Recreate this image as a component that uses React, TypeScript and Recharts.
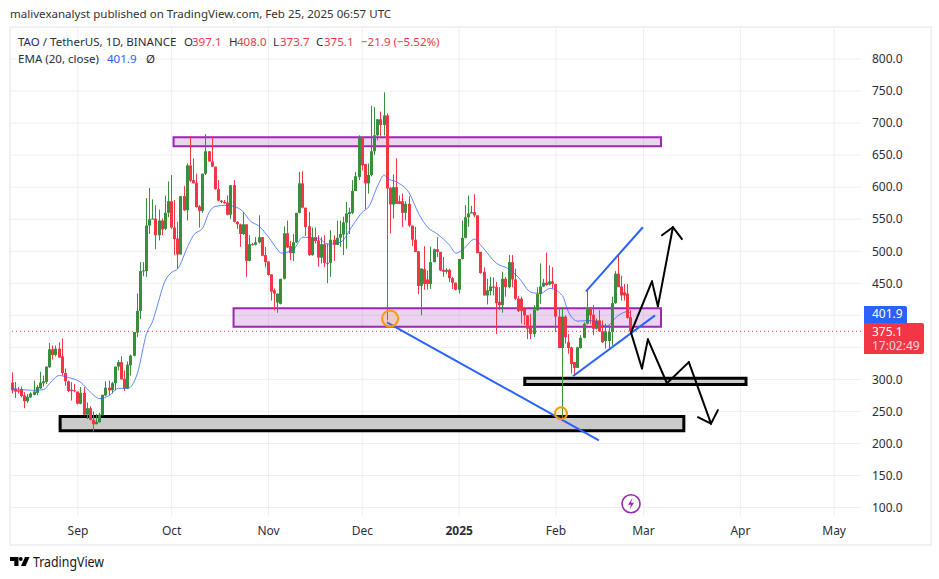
import React from "react";
import {
  ComposedChart,
  Bar,
  Line,
  XAxis,
  YAxis,
  CartesianGrid,
  ReferenceArea,
  ReferenceLine,
  ReferenceDot,
} from "recharts";

// daily candles, Aug 11 2024 (index 0) to Feb 25 2025 (index 198)
const opens = [
  295, 285, 283, 285, 275, 266, 272, 276, 279, 286, 294, 296, 319, 347, 338, 348, 336, 310, 297, 284,
  283, 281, 262, 279, 245, 255, 237, 230, 233, 244, 275, 287, 283, 294, 320, 327, 301, 286, 322, 337,
  373, 407, 469, 469, 540, 550, 551, 525, 548, 535, 560, 578, 537, 520, 495, 586, 564, 634, 611, 607,
  570, 563, 621, 656, 640, 632, 597, 579, 577, 576, 557, 603, 546, 542, 527, 542, 485, 511, 510, 514,
  522, 494, 484, 464, 439, 420, 418, 457, 528, 508, 497, 514, 560, 606, 568, 539, 494, 522, 517, 490,
  511, 482, 482, 518, 510, 521, 526, 545, 558, 560, 594, 616, 678, 636, 606, 619, 656, 681, 706, 697,
  712, 599, 573, 600, 578, 578, 560, 574, 540, 518, 500, 446, 472, 456, 449, 483, 503, 499, 471, 468,
  471, 458, 451, 440, 488, 521, 553, 559, 561, 556, 499, 468, 431, 438, 445, 444, 421, 416, 457, 444,
  483, 456, 426, 426, 410, 400, 381, 371, 408, 433, 445, 451, 448, 453, 449, 398, 349, 398, 358, 350,
  327, 318, 349, 365, 387, 412, 401, 379, 392, 375, 360, 360, 374, 419, 465, 445, 436, 434, 397.1,
];
const highs = [
  311, 296, 288, 289, 280, 277, 280, 298, 291, 312, 306, 320, 357, 353, 353, 358, 364, 317, 298, 296,
  293, 281, 288, 288, 264, 258, 250, 246, 248, 276, 297, 298, 296, 320, 330, 336, 314, 328, 339, 374,
  434, 483, 483, 583, 599, 581, 572, 565, 551, 587, 609, 619, 580, 546, 586, 602, 637, 680, 645, 621,
  572, 621, 683, 656, 679, 632, 611, 580, 580, 587, 603, 611, 547, 543, 561, 542, 525, 513, 522, 556,
  522, 507, 484, 464, 442, 434, 457, 539, 548, 516, 527, 560, 624, 625, 568, 561, 537, 537, 525, 522,
  525, 512, 533, 525, 548, 548, 554, 577, 568, 611, 624, 681, 678, 636, 637, 727, 725, 706, 718, 748,
  715, 600, 620, 645, 587, 590, 578, 586, 540, 538, 500, 473, 508, 470, 507, 504, 522, 499, 491, 474,
  473, 460, 451, 488, 548, 572, 587, 571, 589, 556, 499, 475, 457, 460, 459, 452, 444, 468, 460, 494,
  494, 473, 430, 429, 412, 400, 402, 416, 444, 481, 457, 498, 478, 475, 449, 412, 412, 400, 371, 351,
  327, 351, 369, 389, 438, 412, 416, 395, 408, 392, 387, 384, 429, 469, 495, 462, 449, 449, 408,
];
const lows = [
  278, 271, 278, 272, 255, 263, 271, 275, 275, 285, 289, 293, 318, 331, 336, 334, 306, 290, 280, 267,
  280, 261, 261, 244, 238, 236, 219, 230, 233, 244, 274, 275, 278, 283, 314, 300, 282, 285, 306, 336,
  366, 394, 461, 460, 527, 550, 503, 517, 525, 533, 553, 535, 494, 473, 495, 563, 548, 608, 606, 568,
  537, 560, 619, 640, 632, 596, 578, 575, 574, 556, 550, 545, 535, 507, 525, 460, 484, 509, 509, 512,
  492, 475, 462, 423, 408, 404, 417, 456, 505, 486, 485, 513, 559, 567, 524, 493, 493, 512, 476, 481,
  475, 450, 460, 485, 510, 507, 494, 504, 527, 558, 594, 611, 626, 566, 590, 617, 650, 673, 680, 681,
  392, 528, 551, 574, 574, 538, 548, 538, 508, 499, 433, 400, 440, 440, 441, 483, 491, 469, 460, 465,
  452, 441, 439, 434, 487, 520, 538, 559, 553, 497, 465, 431, 417, 431, 431, 371, 408, 404, 429, 442,
  444, 424, 405, 387, 385, 363, 363, 366, 407, 418, 444, 446, 447, 442, 374, 349, 238, 356, 340, 309,
  308, 318, 348, 364, 386, 387, 369, 378, 374, 357, 348, 346, 353, 418, 444, 423, 423, 395, 373.7,
];
const closes = [
  283, 281, 281, 274, 266, 273, 278, 281, 288, 295, 297, 320, 347, 338, 348, 334, 310, 297, 282, 282,
  282, 262, 279, 245, 255, 237, 230, 234, 245, 276, 287, 283, 294, 320, 327, 300, 286, 323, 337, 374,
  407, 469, 470, 540, 550, 551, 525, 548, 534, 560, 578, 537, 519, 495, 586, 564, 634, 610, 606, 569,
  563, 621, 656, 640, 632, 597, 579, 577, 575, 557, 603, 546, 542, 527, 542, 485, 511, 510, 514, 522,
  493, 483, 463, 437, 434, 434, 457, 528, 506, 497, 514, 560, 606, 568, 538, 494, 521, 516, 490, 511,
  482, 481, 518, 510, 521, 527, 545, 559, 561, 594, 617, 678, 634, 606, 619, 656, 681, 706, 697, 712,
  598, 573, 600, 574, 574, 560, 574, 540, 518, 499, 446, 473, 449, 449, 483, 503, 499, 470, 468, 471,
  458, 451, 440, 488, 521, 553, 559, 561, 556, 497, 466, 431, 439, 445, 443, 419, 416, 457, 444, 483,
  456, 426, 407, 407, 400, 379, 371, 409, 433, 445, 451, 447, 453, 449, 398, 349, 398, 366, 349, 324,
  318, 350, 365, 387, 412, 400, 379, 392, 375, 358, 375, 374, 419, 465, 444, 431, 431, 396, 375.1,
];

// EMA(20) at these candle indexes
const emaIndexes = [
  0, 7, 10, 12, 15, 18, 22, 25, 28, 31, 34, 37, 40, 43, 45, 46, 49, 51, 53, 56, 58, 61, 63, 65, 69, 71, 74,
  76, 79, 82, 85, 86, 90, 93, 98, 101, 105, 109, 112, 114, 117, 119, 120, 123, 127, 130, 133, 136, 140, 142,
  144, 148, 150, 155, 159, 162, 166, 169, 172, 176, 178, 181, 185, 190, 194, 197, 198,
];
const emaValues = [
  286, 283, 284, 294, 306, 303, 295, 280, 270, 275, 286, 286, 309, 372, 392, 408, 455, 467, 473, 506, 525, 537, 561, 570, 572, 570, 561,
  548, 539, 522, 502, 497, 503, 522, 520, 511, 514, 541, 561, 569, 603, 619, 614, 608, 591, 559, 537, 527, 509, 497,
  502, 519, 509, 481, 472, 459, 436, 434, 442, 431, 405, 391, 392, 383, 400, 406, 401.9,
];

const priceTicks = [100, 150, 200, 250, 300, 350, 400, 450, 500, 550, 600, 650, 700, 750, 800];
// these two sit behind the price tags, so they get a gridline but no label
const coveredTicks = [350, 400];
const monthTicks = [21, 51, 82, 112, 143, 174, 202, 233, 263];
const monthLabels = ["Sep", "Oct", "Nov", "Dec", "2025", "Feb", "Mar", "Apr", "May"];

// drawings in [index, price] terms
const purpleZones = [
  [51.6, 207.6, 664, 678],
  [70.8, 207.6, 382, 411],
];
const greyZones = [
  [164, 234.8, 292, 301.6],
  [15.3, 214.9, 220, 242],
];
const blueLines = [
  [119.9, 389, 187.7, 205],
  [179.4, 305, 205.7, 400],
  [183.6, 437.5, 201.8, 537.5],
];
const blackPaths = [
  [[198, 373], [204.7, 453], [206.6, 414], [211.4, 537.5]],
  [[207.9, 525], [211.4, 537.5], [214.3, 519]],
  [[198, 373], [201.5, 317], [203.4, 362.5], [209.5, 294], [216.5, 327], [223.6, 231]],
  [[219.4, 241], [223.6, 231], [225.8, 252]],
];
const circles = [
  [120.9, 395, 8],
  [175.6, 247, 6],
];

const UP = "#388e3c";
const DOWN = "#f23645";
const FONT = "'Noto Sans', sans-serif";

const rows = opens.map((open, i) => {
  const at = emaIndexes.indexOf(i);
  return {
    i,
    open,
    high: highs[i],
    low: lows[i],
    close: closes[i],
    range: [lows[i], highs[i]],
    ema: at >= 0 ? emaValues[at] : null,
  };
});

const Candle = (props: any) => {
  const { x, y, width, height, payload } = props;
  const { open, close, high, low } = payload;
  const k = height / (high - low);
  // snap to whole pixels so the wicks stay crisp
  const cx = Math.floor(x + width / 2) + 0.5;
  const top = y + (high - Math.max(open, close)) * k;
  const bodyH = Math.max(Math.abs(open - close) * k, 1);
  const color = close >= open ? UP : DOWN;
  return (
    <g>
      <line x1={cx} x2={cx} y1={y} y2={y + height} stroke={color} strokeWidth={1} />
      <rect x={cx - 1.5} y={top} width={3} height={bodyH} fill={color} />
    </g>
  );
};

const MonthTick = (props: any) => {
  const { x, y, payload } = props;
  const label = monthLabels[monthTicks.indexOf(payload.value)];
  return (
    <text
      x={x}
      y={y + 11}
      textAnchor="middle"
      fontSize={12}
      fontFamily={FONT}
      fontWeight={label === "2025" ? 700 : 400}
      fill="#2a2e39"
    >
      {label}
    </text>
  );
};

const BoltIcon = (props: any) => {
  const { cx, cy } = props;
  return (
    <g>
      <circle cx={cx} cy={cy} r={9} fill="#fff" stroke="#9c27b0" strokeWidth={1.6} />
      <path
        d={`M${cx + 1.5} ${cy - 6} L${cx - 3} ${cy + 1} H${cx} L${cx - 1.5} ${cy + 6} L${cx + 3} ${cy - 1} H${cx} Z`}
        fill="#9c27b0"
      />
    </g>
  );
};

const textAt = (left: number, top: number, color: string, text: string, size = 11.55, height = 14) => (
  <div
    key={`${left}-${top}`}
    style={{
      position: "absolute",
      left,
      top,
      color,
      fontSize: size,
      fontFamily: FONT,
      lineHeight: `${height}px`,
      whiteSpace: "nowrap",
    }}
  >
    {text}
  </div>
);

const App = () => {
  return (
    <div style={{ position: "absolute", left: 0, top: 0, width: 939, height: 579, background: "#fff", overflow: "hidden" }}>
      <div
        style={{
          position: "absolute",
          left: 9,
          top: 26,
          width: 919,
          height: 516,
          border: "2px solid #f0f1f4",
          boxSizing: "content-box",
        }}
      />
      <div style={{ position: "absolute", left: 0, top: 0 }}>
        <ComposedChart
          width={939}
          height={579}
          data={rows}
          margin={{ top: 27, right: 0, left: 10, bottom: 33 }}
        >
          <CartesianGrid stroke="#eeeff2" strokeWidth={1} syncWithTicks />
          <XAxis
            dataKey="i"
            type="number"
            domain={[-0.74, 271.6]}
            ticks={monthTicks}
            tick={<MonthTick />}
            axisLine={false}
            tickLine={false}
            height={30}
            interval={0}
            allowDataOverflow
          />
          <YAxis
            orientation="right"
            type="number"
            domain={[86.8, 850]}
            ticks={priceTicks}
            width={78}
            axisLine={false}
            tickLine={false}
            tickSize={0}
            tickMargin={11}
            interval={0}
            allowDataOverflow
            tickFormatter={(v: number) => (coveredTicks.includes(v) ? "" : v.toFixed(1))}
            tick={{ fontSize: 12, fontFamily: FONT, fill: "#2a2e39" }}
          />
          {purpleZones.map((z, n) => (
            <ReferenceArea
              key={`purple-${n}`}
              x1={z[0]}
              x2={z[1]}
              y1={z[2]}
              y2={z[3]}
              fill="#9c27b0"
              fillOpacity={0.2}
              stroke="#9c27b0"
              strokeWidth={2}
              ifOverflow="visible"
            />
          ))}
          {greyZones.map((z, n) => (
            <ReferenceArea
              key={`grey-${n}`}
              x1={z[0]}
              x2={z[1]}
              y1={z[2]}
              y2={z[3]}
              fill="#cacaca"
              fillOpacity={1}
              stroke="#000"
              strokeWidth={3}
              ifOverflow="visible"
            />
          ))}
          <ReferenceLine y={375.1} stroke={DOWN} strokeDasharray="1 3" strokeWidth={1} />
          <Bar dataKey="range" barSize={3} shape={<Candle />} isAnimationActive={false} />
          <Line
            dataKey="ema"
            type="monotone"
            stroke="#2962ff"
            strokeOpacity={0.75}
            strokeWidth={1}
            dot={false}
            connectNulls
            isAnimationActive={false}
          />
          {circles.map((c, n) => (
            <ReferenceDot
              key={`circle-${n}`}
              x={c[0]}
              y={c[1]}
              r={c[2]}
              fill="#ff9800"
              fillOpacity={0.15}
              stroke="#ff9800"
              strokeWidth={2}
              ifOverflow="visible"
            />
          ))}
          {blueLines.map((l, n) => (
            <ReferenceLine
              key={`blue-${n}`}
              segment={[
                { x: l[0], y: l[1] },
                { x: l[2], y: l[3] },
              ]}
              stroke="#2962ff"
              strokeWidth={2}
              ifOverflow="visible"
            />
          ))}
          {blackPaths.map((path, n) =>
            path.slice(1).map((pt, m) => (
              <ReferenceLine
                key={`black-${n}-${m}`}
                segment={[
                  { x: path[m][0], y: path[m][1] },
                  { x: pt[0], y: pt[1] },
                ]}
                stroke="#000"
                strokeWidth={2}
                strokeLinecap="round"
                ifOverflow="visible"
              />
            ))
          )}
          <ReferenceDot x={198} y={106} r={9} shape={<BoltIcon />} ifOverflow="visible" />
        </ComposedChart>
      </div>

      {textAt(10, 7, "#333", "malivexanalyst published on TradingView.com, Feb 25, 2025 06:57 UTC")}
      {textAt(18, 35, "#2a2e39", "TAO / TetherUS, 1D, BINANCE")}
      {textAt(184, 35, "#2a2e39", "O")}
      {textAt(192, 35, DOWN, "397.1")}
      {textAt(229, 35, "#2a2e39", "H")}
      {textAt(237, 35, DOWN, "408.0")}
      {textAt(273, 35, "#2a2e39", "L")}
      {textAt(280, 35, DOWN, "373.7")}
      {textAt(316, 35, "#2a2e39", "C")}
      {textAt(324, 35, DOWN, "375.1")}
      {textAt(361, 35, DOWN, "−21.9 (−5.52%)")}
      {textAt(18, 52, "#2a2e39", "EMA (20, close)")}
      {textAt(107, 52, "#2962ff", "401.9")}
      {textAt(146, 52, "#2a2e39", "Ø")}

      <div style={{ position: "absolute", left: 864, top: 306, width: 43, height: 17, background: "#2962ff", borderRadius: "0 2px 0 0" }} />
      <div style={{ position: "absolute", left: 864, top: 323, width: 60, height: 31, background: "#f23645", borderRadius: "0 2px 2px 0" }} />
      {textAt(872, 307, "#fff", "401.9", 12)}
      {textAt(872, 326, "#fff", "375.1", 12, 12)}
      {textAt(872, 340, "#fbd7da", "17:02:49", 12, 12)}

      <svg style={{ position: "absolute", left: 0, top: 550 }} width={130} height={24}>
        <path d="M10 7 h8.5 v9 h-4.2 v-5 h-4.3 z" fill="#000" />
        <circle cx={20.8} cy={9} r={1.9} fill="#000" />
        <path d="M25 7 h4.6 l-4 9 h-4.6 z" fill="#000" />
        <text x={33} y={17} fontSize={14} fontFamily={FONT} fill="#131722" textLength={71} lengthAdjust="spacingAndGlyphs">
          TradingView
        </text>
      </svg>
    </div>
  );
};

export default App;
